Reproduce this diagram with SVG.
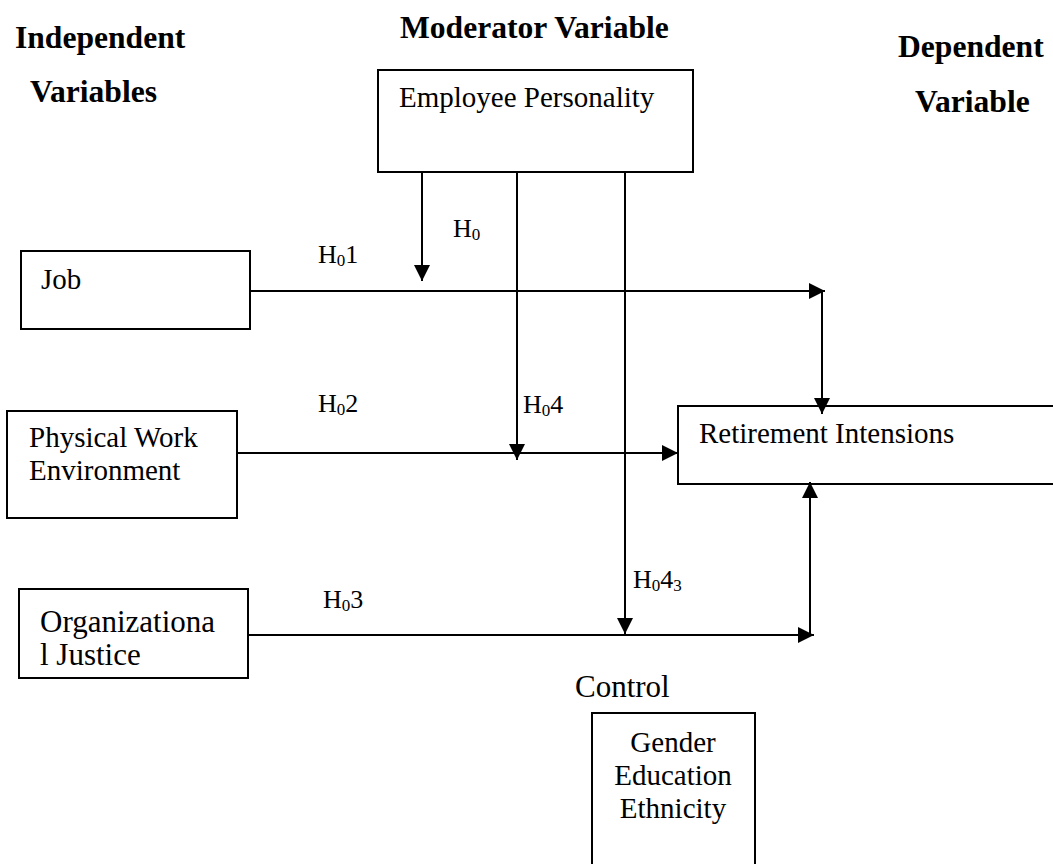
<svg xmlns="http://www.w3.org/2000/svg" width="1053" height="864" viewBox="0 0 1053 864">
<style>
.box{fill:#fff;stroke:#000;stroke-width:2}
.t{font-family:"Liberation Serif","Times New Roman",serif;font-size:29px;fill:#000}
.big{font-size:31px}
.h{font-family:"Liberation Serif","Times New Roman",serif;font-size:31.6px;font-weight:bold;fill:#000}
.lb{font-family:"Liberation Serif","Times New Roman",serif;font-size:26px;fill:#000}
.sub{font-size:17px}
.c{fill:none;stroke:#000;stroke-width:2}
</style>
<defs>
<marker id="arr" markerUnits="userSpaceOnUse" markerWidth="17" markerHeight="16" refX="16" refY="8" orient="auto">
<path d="M0,0 L16,8 L0,16 z" fill="#000"/>
</marker>
</defs>
<rect width="1053" height="864" fill="#fff"/>
<g id="headers">
<text class="h" x="15" y="48">Independent</text>
<text class="h" x="30" y="102">Variables</text>
<text class="h" x="400" y="38">Moderator Variable</text>
<text class="h" x="898" y="57">Dependent</text>
<text class="h" x="915" y="112">Variable</text>
</g>
<g id="moderator">
<rect class="box" x="378" y="70" width="315" height="102"/>
<text class="t" x="399" y="107">Employee Personality</text>
</g>
<g id="job">
<rect class="box" x="21" y="251" width="229" height="78"/>
<text class="t" x="41" y="289">Job</text>
</g>
<g id="physical">
<rect class="box" x="7" y="411" width="230" height="107"/>
<text class="t" x="29" y="447">Physical Work</text>
<text class="t" x="29" y="480">Environment</text>
</g>
<g id="justice">
<rect class="box" x="19" y="589" width="229" height="89"/>
<text class="t big" x="40" y="632">Organizationa</text>
<text class="t big" x="40" y="665">l Justice</text>
</g>
<g id="retirement">
<rect class="box" x="678" y="406" width="380" height="78"/>
<text class="t" x="699" y="443">Retirement Intensions</text>
</g>
<g id="control">
<text class="t big" x="575" y="697">Control</text>
<rect class="box" x="592" y="713" width="163" height="170"/>
<text class="t" x="673" y="752" text-anchor="middle">Gender</text>
<text class="t" x="673" y="785" text-anchor="middle">Education</text>
<text class="t" x="673" y="818" text-anchor="middle">Ethnicity</text>
</g>
<g id="connectors">
<line class="c" x1="422" y1="172" x2="422" y2="281" marker-end="url(#arr)"/>
<line class="c" x1="517" y1="172" x2="517" y2="460" marker-end="url(#arr)"/>
<line class="c" x1="625" y1="172" x2="625" y2="634" marker-end="url(#arr)"/>
<line class="c" x1="250" y1="291" x2="825" y2="291" marker-end="url(#arr)"/>
<line class="c" x1="822" y1="291" x2="822" y2="414" marker-end="url(#arr)"/>
<line class="c" x1="237" y1="453" x2="678" y2="453" marker-end="url(#arr)"/>
<line class="c" x1="248" y1="635" x2="814" y2="635" marker-end="url(#arr)"/>
<line class="c" x1="810" y1="635" x2="810" y2="482" marker-end="url(#arr)"/>
</g>
<g id="labels">
<text class="lb" x="318" y="263">H<tspan class="sub" dy="3">0</tspan><tspan dy="-3">1</tspan></text>
<text class="lb" x="453" y="237">H<tspan class="sub" dy="3">0</tspan></text>
<text class="lb" x="318" y="412">H<tspan class="sub" dy="3">0</tspan><tspan dy="-3">2</tspan></text>
<text class="lb" x="523" y="413">H<tspan class="sub" dy="3">0</tspan><tspan dy="-3">4</tspan></text>
<text class="lb" x="323" y="608">H<tspan class="sub" dy="3">0</tspan><tspan dy="-3">3</tspan></text>
<text class="lb" x="633" y="588">H<tspan class="sub" dy="3">0</tspan><tspan dy="-3">4</tspan><tspan class="sub" dy="3">3</tspan></text>
</g>
</svg>
